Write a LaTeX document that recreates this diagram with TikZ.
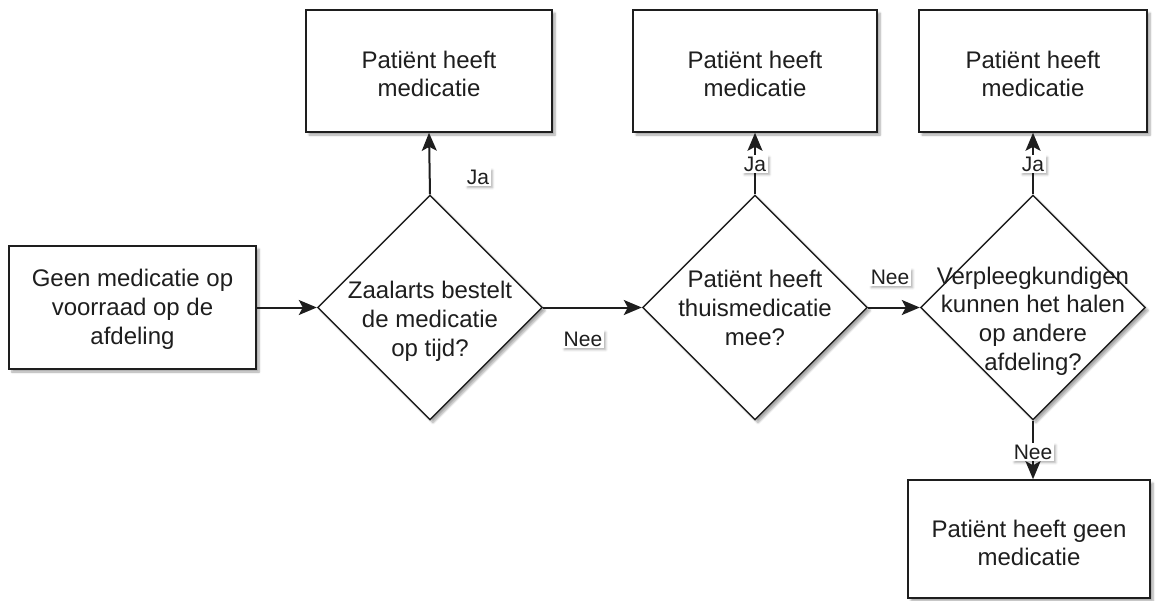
\documentclass[tikz,border=0pt]{standalone}
\usepackage{fontspec}
\setmainfont{Liberation Sans}
\usetikzlibrary{shapes.geometric,arrows.meta,shadows.blur}
\definecolor{ink}{HTML}{1E1E1E}
\begin{document}
\begin{tikzpicture}[x=1pt,y=-1pt,
  dropshade/.style={blur shadow={shadow xshift=3pt,shadow yshift=-3pt,shadow blur steps=6,shadow opacity=35}},
  box/.style={draw=ink,line width=1.6pt,fill=white,dropshade,rectangle,inner sep=0pt},
  dia/.style={draw=ink,line width=1.4pt,fill=white,dropshade,diamond,aspect=1,inner sep=0pt,minimum width=225pt,minimum height=225pt},
  txt/.style={align=center,text=ink,font=\fontsize{24}{28.8}\selectfont,inner sep=0pt},
  lbl/.style={fill=white,text=ink,font=\fontsize{21}{24}\selectfont,inner sep=1.5pt,
    blur shadow={shadow xshift=2pt,shadow yshift=-2pt,shadow blur steps=4,shadow opacity=30}},
  arr/.style={draw=ink,line width=2pt,-{Stealth[length=18pt,width=15pt,inset=4pt]}}]
\useasboundingbox (0,0) rectangle (1158,600);

\node[box,minimum width=247pt,minimum height=123pt] (start) at (132.5,307.5) {};
\node[txt] (startt) at (132.5,309) {Geen medicatie op\\voorraad op de\\afdeling};

\node[dia] (d1) at (430,307.5) {};
\node[txt] (d1t) at (430,321) {Zaalarts bestelt\\de medicatie\\op tijd?};

\node[dia] (d2) at (755,307.5) {};
\node[txt] (d2t) at (755,308) {Patiënt heeft\\thuismedicatie\\mee?};

\node[dia] (d3) at (1033,307.5) {};
\node[txt] (d3t) at (1033,321) {Verpleegkundigen\\kunnen het halen\\op andere\\afdeling?};

\node[box,minimum width=246pt,minimum height=122pt] (y1) at (429,71) {};
\node[txt] (y1t) at (429,74) {Patiënt heeft\\medicatie};

\node[box,minimum width=244pt,minimum height=122pt] (y2) at (755,71) {};
\node[txt] (y2t) at (755,74) {Patiënt heeft\\medicatie};

\node[box,minimum width=228pt,minimum height=122pt] (y3) at (1033,71) {};
\node[txt] (y3t) at (1033,74) {Patiënt heeft\\medicatie};

\node[box,minimum width=242pt,minimum height=118pt] (no) at (1029,539) {};
\node[txt] (not) at (1029,543) {Patiënt heeft geen\\medicatie};

\draw[arr] (start.east) -- (d1.west);
\draw[arr] (d1.north) -- (y1.south);
\draw[arr] (d1.east) -- (d2.west);
\draw[arr] (d2.north) -- (y2.south);
\draw[arr] (d2.east) -- (d3.west);
\draw[arr] (d3.north) -- (y3.south);
\draw[arr] (d3.south) -- (d3.south |- no.north);

\node[lbl] (l1) at (478,177) {Ja};
\node[lbl] (l2) at (583,339) {Nee};
\node[lbl] (l3) at (755,164) {Ja};
\node[lbl] (l4) at (890,277) {Nee};
\node[lbl] (l5) at (1033,164) {Ja};
\node[lbl] (l6) at (1033,452) {Nee};
\end{tikzpicture}
\end{document}
